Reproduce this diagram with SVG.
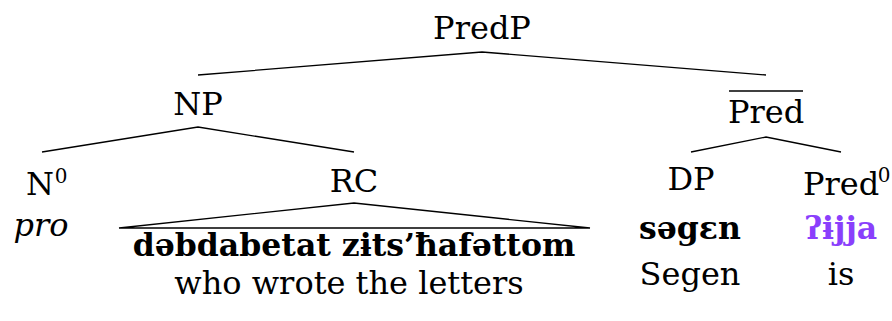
<svg xmlns="http://www.w3.org/2000/svg" width="892" height="321" viewBox="0 0 892 321">
<style>
text{font-family:"DejaVu Serif","Liberation Serif",serif;font-size:32px;fill:#000;text-anchor:middle}
.b{font-weight:bold;font-size:31.5px}
.i{font-style:italic}
.p{fill:#8a3ffc}
.sup{font-size:20px}
.e{fill:none;stroke:#000;stroke-width:1.3}
</style>
<rect width="892" height="321" fill="#fff"/>
<g id="connectors">
<polyline class="e" points="198,75 482,52 766,75"/>
<polyline class="e" points="42,152 198,127 354,152"/>
<polyline class="e" points="691,152 766,137 841,152"/>
<polygon class="e" points="119,228 354,203 590,228"/>
</g>
<g id="PredP"><text x="482" y="39">PredP</text></g>
<g id="NP"><text x="198" y="115">NP</text></g>
<g id="PredBar"><text x="766" y="123">Pred</text><line x1="729" y1="91" x2="803" y2="91" stroke="#000" stroke-width="1.5"/></g>
<g id="N0"><text x="40" y="195">N</text><text class="sup" x="61" y="183">0</text><text class="i" x="41" y="236">pro</text></g>
<g id="RC"><text x="354" y="192">RC</text><text class="b" x="354" y="256">dəbdabetat zɨts’ħafəttom</text><text x="349" y="294">who wrote the letters</text></g>
<g id="DP"><text x="691" y="190">DP</text><text class="b" x="690" y="239">səgɛn</text><text x="690" y="285">Segen</text></g>
<g id="Pred0"><text x="841" y="195">Pred</text><text class="sup" x="884" y="182">0</text><text class="b p" x="841" y="239">ʔɨjja</text><text x="841" y="285">is</text></g>
</svg>
